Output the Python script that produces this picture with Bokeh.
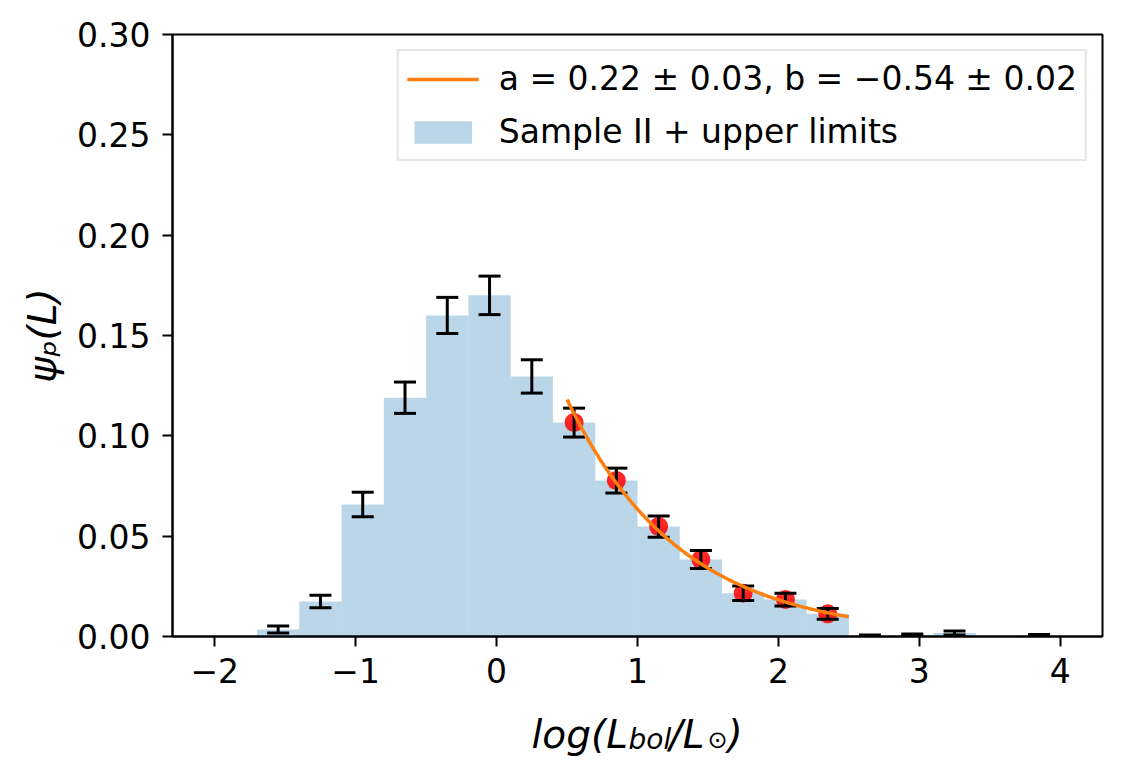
import numpy as np
from bokeh.plotting import figure
from bokeh.models import (Range1d, FixedTicker, NumeralTickFormatter, Label,
                          Legend, LegendItem)
from bokeh.layouts import column
from bokeh.embed import file_html
from bokeh.resources import INLINE

# ---------------- data ----------------
bin_left = [-2.0, -1.7, -1.4, -1.1, -0.8, -0.5, -0.2, 0.1, 0.4, 0.7,
            1.0, 1.3, 1.6, 1.9, 2.2, 2.5, 2.8, 3.1, 3.4, 3.7]
bin_right = [-1.7, -1.4, -1.1, -0.8, -0.5, -0.2, 0.1, 0.4, 0.7, 1.0,
             1.3, 1.6, 1.9, 2.2, 2.5, 2.8, 3.1, 3.4, 3.7, 4.0]
hist_vals = [0.0, 0.0035, 0.0174, 0.0658, 0.119, 0.160, 0.170, 0.1296, 0.1066, 0.0777,
             0.0548, 0.0384, 0.0216, 0.0184, 0.0113, 0.0003, 0.0008, 0.0017, 0.0, 0.0005]
err_vals = [0.0, 0.0017, 0.0031, 0.0061, 0.0078, 0.0090, 0.0096, 0.0083, 0.0072, 0.0062,
            0.0053, 0.0045, 0.0036, 0.0032, 0.0027, 0.0005, 0.0005, 0.0010, 0.0, 0.0005]
fit_x = [0.55, 0.85, 1.15, 1.45, 1.75, 2.05, 2.35]
fit_y = [0.1066, 0.0777, 0.0548, 0.0384, 0.0216, 0.0184, 0.0113]
fit_a = 0.22
fit_b = -0.54
fit_range = [0.5, 2.5]
x_ticks = [-2, -1, 0, 1, 2, 3, 4]
y_ticks = [0.0, 0.05, 0.10, 0.15, 0.20, 0.25, 0.30]
legend_fit = "a = 0.22 ± 0.03, b = −0.54 ± 0.02"
legend_hist = "Sample II + upper limits"
y_label = "ψₚ(L)"

FONT = "DejaVu Sans"
BL, BR, BT, BB = 172, 8, 34, 60      # borders of the main figure
PW, PH = 1110, 696                   # main figure size

# ---------------- main figure ----------------
p = figure(width=PW, height=PH, x_range=Range1d(-2.3, 4.3), y_range=Range1d(0, 0.30),
           output_backend="svg", toolbar_location=None,
           min_border_left=BL, min_border_right=BR, min_border_top=BT, min_border_bottom=BB)
p.background_fill_color = "white"
p.border_fill_color = "white"
p.outline_line_color = "black"
p.outline_line_width = 2
p.xgrid.visible = False
p.ygrid.visible = False

bars = p.quad(left=bin_left, right=bin_right, bottom=0, top=hist_vals,
              fill_color="#1f77b4", fill_alpha=0.3, line_color=None)

p.scatter(fit_x, fit_y, size=19, fill_color="red", fill_alpha=0.85, line_color=None)

cx, lo, hi = [], [], []
for l, r, v, e in zip(bin_left, bin_right, hist_vals, err_vals):
    if e > 0:
        cx.append((l + r) / 2)
        lo.append(v - e)
        hi.append(v + e)
p.segment(x0=cx, y0=lo, x1=cx, y1=hi, line_color="black", line_width=3)
p.scatter(cx, lo, marker="dash", size=22, line_color="black", line_width=3)
p.scatter(cx, hi, marker="dash", size=22, line_color="black", line_width=3)

xs = np.linspace(fit_range[0], fit_range[1], 200)
ys = fit_a * 10 ** (fit_b * xs)
fit_line = p.line(xs, ys, line_color="#ff7f0e", line_width=3.5)

for ax in (p.xaxis[0], p.yaxis[0]):
    ax.axis_line_width = 2
    ax.major_tick_line_width = 2
    ax.major_tick_in = 0
    ax.major_tick_out = 10
    ax.minor_tick_line_color = None
    ax.major_label_text_font = FONT
    ax.major_label_text_font_size = "33px"
    ax.major_label_text_color = "black"
p.xaxis.ticker = FixedTicker(ticks=x_ticks)
p.xaxis.major_label_overrides = {t: (str(t) if t >= 0 else "−" + str(-t)) for t in x_ticks}
p.xaxis.major_label_standoff = 11
p.yaxis.ticker = FixedTicker(ticks=y_ticks)
p.yaxis.formatter = NumeralTickFormatter(format="0.00")
p.yaxis.major_label_standoff = 12
p.yaxis.axis_label = y_label
p.yaxis.axis_label_text_font = FONT
p.yaxis.axis_label_text_font_size = "39px"
p.yaxis.axis_label_text_font_style = "italic"
p.yaxis.axis_label_text_color = "black"
p.yaxis.axis_label_standoff = 9

legend = Legend(items=[LegendItem(label=legend_fit, renderers=[fit_line]),
                       LegendItem(label=legend_hist, renderers=[bars])],
                location="top_right", margin=15)
legend.border_line_color = "#cccccc"
legend.border_line_width = 2
legend.background_fill_color = "white"
legend.background_fill_alpha = 0.8
legend.label_text_font = FONT
legend.label_text_font_size = "33px"
legend.label_text_color = "black"
legend.glyph_width = 72
legend.glyph_height = 28
legend.label_height = 36
legend.spacing = 14
legend.padding = 8
legend.label_standoff = 20
p.add_layout(legend)


# ---------------- x-label panel (text with subscripts) ----------------
xlab = figure(width=PW, height=60, x_range=Range1d(0, PW - BL - BR), y_range=Range1d(0, 60),
              x_axis_type=None, y_axis_type=None, output_backend="svg",
              toolbar_location=None, min_border_left=BL, min_border_right=BR,
              min_border_top=0, min_border_bottom=0)
xlab.outline_line_color = None
xlab.xgrid.visible = False
xlab.ygrid.visible = False
xlab.background_fill_color = "white"
xlab.border_fill_color = "white"


def lab(x, y, text, size, italic=True):
    xlab.add_layout(Label(x=x, y=y, text=text, text_font=FONT, text_font_size=size,
                          text_font_style="italic" if italic else "normal",
                          text_align="left", text_baseline="alphabetic",
                          text_color="black"))


lab(359, 22, "log(L", "39px")
lab(456, 17, "bol", "28px")
lab(497, 22, "/L", "39px")
lab(535, 17, "⊙", "24px", italic=False)
lab(555, 22, ")", "39px")

layout = column(p, xlab)
open("out.html", "w").write(file_html(layout, INLINE))
